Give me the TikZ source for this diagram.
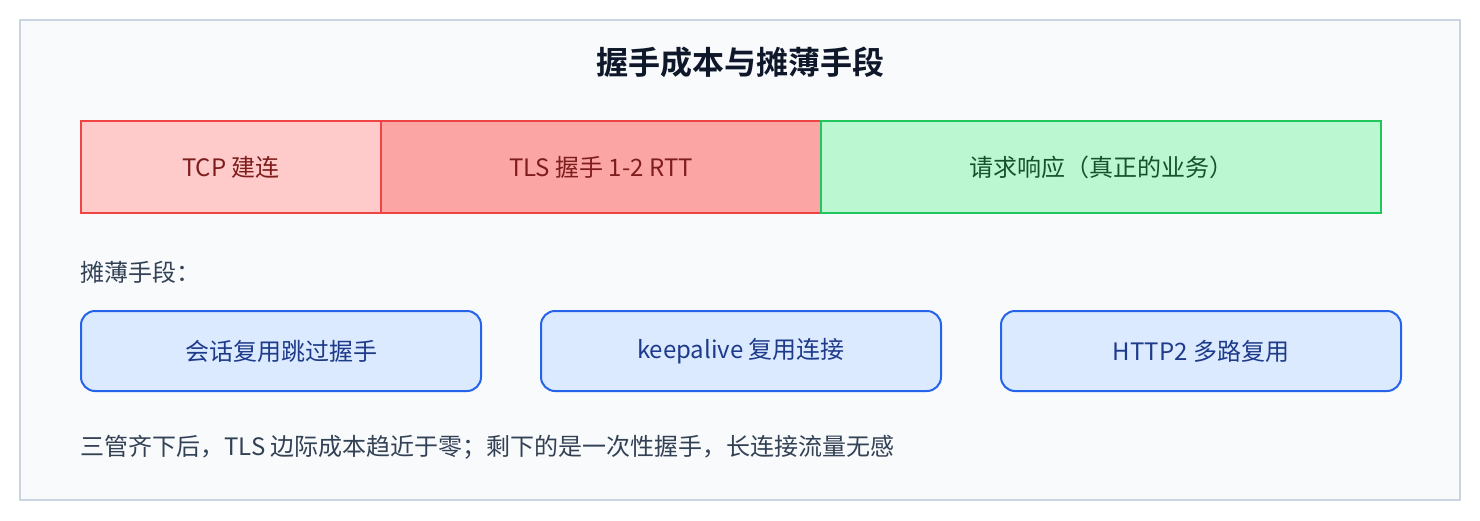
\documentclass[tikz,border=0pt]{standalone}
\usepackage{fontspec}
\setmainfont{Noto Sans CJK SC}
\newfontfamily\cjkbold{Noto Sans CJK SC Bold}
\definecolor{outerfill}{HTML}{F8FAFC}
\definecolor{outerline}{HTML}{CBD5E1}
\definecolor{titlecol}{HTML}{0F172A}
\definecolor{bodycol}{HTML}{334155}
\definecolor{redline}{HTML}{EF4444}
\definecolor{tcpfill}{HTML}{FECACA}
\definecolor{tlsfill}{HTML}{FCA5A5}
\definecolor{redtext}{HTML}{7F1D1D}
\definecolor{greenfill}{HTML}{BBF7D0}
\definecolor{greenline}{HTML}{22C55E}
\definecolor{greentext}{HTML}{14532D}
\definecolor{bluefill}{HTML}{DBEAFE}
\definecolor{blueline}{HTML}{2563EB}
\definecolor{bluetext}{HTML}{1E3A8A}
\begin{document}
\begin{tikzpicture}[x=1pt,y=-1pt,
  barbox/.style={draw, line width=2pt, minimum height=92pt, inner sep=0pt, anchor=north west, font=\fontsize{24}{28}\selectfont},
  waybox/.style={draw=blueline, fill=bluefill, text=bluetext, line width=2pt, rounded corners=14pt, minimum width=400pt, minimum height=80pt, inner sep=0pt, anchor=north west, font=\fontsize{24}{28}\selectfont},
  plain/.style={anchor=west, inner sep=0pt, text=bodycol, font=\fontsize{24}{28}\selectfont}]
\useasboundingbox (0,0) rectangle (1480,520);
\draw[outerline, fill=outerfill, line width=2pt] (20,20) rectangle (1460,500);
\node[text=titlecol, font=\cjkbold\fontsize{32}{36}\selectfont] (title) at (740,62) {握手成本与摊薄手段};
\node[barbox, draw=redline, fill=tcpfill, text=redtext, minimum width=300pt] (tcp) at (80,120) {TCP 建连};
\node[barbox, draw=redline, fill=tlsfill, text=redtext, minimum width=440pt] (tls) at (380,120) {TLS 握手 1-2 RTT};
\node[barbox, draw=greenline, fill=greenfill, text=greentext, minimum width=560pt] (req) at (820,120) {请求响应（真正的业务）};
\node[plain] (lab) at (80,272) {摊薄手段：};
\node[waybox] (w1) at (80,310) {会话复用跳过握手};
\node[waybox] (w2) at (540,310) {keepalive 复用连接};
\node[waybox] (w3) at (1000,310) {HTTP2 多路复用};
\node[plain] (foot) at (80,447) {三管齐下后，TLS 边际成本趋近于零；剩下的是一次性握手，长连接流量无感};
\end{tikzpicture}
\end{document}
